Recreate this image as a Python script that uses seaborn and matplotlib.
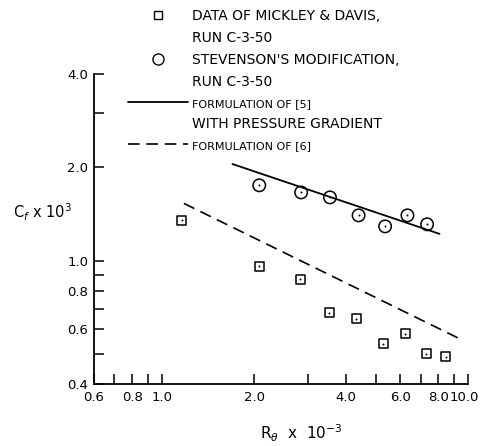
import numpy as np
import pandas as pd
import matplotlib
matplotlib.use("Agg")
import matplotlib.pyplot as plt
import matplotlib.transforms as mtransforms
from matplotlib.lines import Line2D
from matplotlib.ticker import FixedLocator, FixedFormatter, NullFormatter
import seaborn as sns

# Values (R_theta x 1e-3, Cf x 1e3)
mickley_x = [1.16, 2.08, 2.83, 3.52, 4.31, 5.29, 6.23, 7.30, 8.46]
mickley_y = [1.35, 0.96, 0.87, 0.68, 0.65, 0.54, 0.58, 0.50, 0.49]
stevenson_x = [2.08, 2.85, 3.54, 4.39, 5.36, 6.34, 7.35]
stevenson_y = [1.75, 1.66, 1.60, 1.40, 1.29, 1.40, 1.31]
ref5_x = [1.70, 8.07]
ref5_y = [2.05, 1.22]
ref6_x = [1.18, 9.38]
ref6_y = [1.53, 0.56]

x_major = [0.6, 0.8, 1.0, 2.0, 4.0, 6.0, 8.0, 10.0]
x_labels = ["0.6", "0.8", "1.0", "2.0", "4.0", "6.0", "8.0", "10.0"]
x_minor = [0.7, 0.9, 3.0, 5.0, 7.0, 9.0]
y_major = [0.4, 0.6, 0.8, 1.0, 2.0, 4.0]
y_labels = ["0.4", "0.6", "0.8", "1.0", "2.0", "4.0"]
y_minor = [0.5, 0.7, 0.9, 3.0]

sns.set_style("ticks")
plt.rcParams["font.family"] = ["DejaVu Sans"]
plt.rcParams["text.color"] = "black"
plt.rcParams["xtick.color"] = "black"
plt.rcParams["ytick.color"] = "black"
plt.rcParams["axes.labelcolor"] = "black"

fig = plt.figure(figsize=(4.82, 4.46), dpi=100)
ax = fig.add_axes([0.195, 0.139, 0.776, 0.695])

df_m = pd.DataFrame({"x": mickley_x, "y": mickley_y})
df_s = pd.DataFrame({"x": stevenson_x, "y": stevenson_y})

sns.lineplot(x=ref5_x, y=ref5_y, ax=ax, color="black", lw=1.3)
sns.lineplot(x=ref6_x, y=ref6_y, ax=ax, color="black", lw=1.2, dashes=False,
             linestyle=(0, (7, 4)))
sns.scatterplot(data=df_m, x="x", y="y", ax=ax, marker="s", s=42,
                facecolor="none", edgecolor="black", linewidth=1.1)
sns.scatterplot(data=df_s, x="x", y="y", ax=ax, marker="o", s=80,
                facecolor="none", edgecolor="black", linewidth=1.1)
# centre dots
sns.scatterplot(data=pd.concat([df_m, df_s]), x="x", y="y", ax=ax,
                marker="o", s=2, color="black", linewidth=0)

ax.set_xscale("log")
ax.set_yscale("log")
ax.set_xlim(0.6, 10.0)
ax.set_ylim(0.4, 4.0)

ax.xaxis.set_major_locator(FixedLocator(x_major))
ax.xaxis.set_major_formatter(FixedFormatter(x_labels))
ax.xaxis.set_minor_locator(FixedLocator(x_minor))
ax.xaxis.set_minor_formatter(NullFormatter())
ax.yaxis.set_major_locator(FixedLocator(y_major))
ax.yaxis.set_major_formatter(FixedFormatter(y_labels))
ax.yaxis.set_minor_locator(FixedLocator(y_minor))
ax.yaxis.set_minor_formatter(NullFormatter())

ax.tick_params(which="both", direction="in", length=7, width=1.1,
               labelsize=9.5, color="black", labelcolor="black")
ax.tick_params(axis="x", pad=5)
ax.tick_params(axis="y", pad=4)
# the last x label sits at the figure edge, nudge it left a little
fig.canvas.draw()
last = ax.xaxis.get_major_ticks()[-1].label1
last.set_transform(last.get_transform() +
                   mtransforms.ScaledTranslation(-2.5 / 72, 0, fig.dpi_scale_trans))
for sp in ["top", "right"]:
    ax.spines[sp].set_visible(False)
for sp in ["left", "bottom"]:
    ax.spines[sp].set_linewidth(1.3)
    ax.spines[sp].set_color("black")

ax.set_ylabel(r"C$_f$ x 10$^3$", rotation=0, fontsize=10.5, va="center")
ax.yaxis.set_label_coords(-0.139, 0.555)
ax.set_xlabel(r"R$_\theta$  x  10$^{-3}$", fontsize=11)
ax.xaxis.set_label_coords(0.553, -0.125)

# Legend drawn above the plot area
blank = Line2D([], [], linestyle="none")
handles = [
    Line2D([], [], marker="s", ms=6, mfc="none", mec="black", mew=1, linestyle="none"),
    blank,
    Line2D([], [], marker="o", ms=8, mfc="none", mec="black", mew=1, linestyle="none"),
    blank,
    Line2D([], [], color="black", lw=1.3),
    blank,
    Line2D([], [], color="black", lw=1.2, linestyle=(0, (7, 4))),
]
labels = [
    "DATA OF MICKLEY & DAVIS,",
    "RUN C-3-50",
    "STEVENSON'S MODIFICATION,",
    "RUN C-3-50",
    "FORMULATION OF [5]",
    "WITH PRESSURE GRADIENT",
    "FORMULATION OF [6]",
]
leg = fig.legend(handles, labels, loc="upper left",
                 bbox_to_anchor=(0.251, 0.996), frameon=False,
                 handlelength=4.3, handletextpad=0.3, labelspacing=0.59,
                 borderpad=0, fontsize=10)
for i in (4, 6):
    leg.get_texts()[i].set_fontsize(8)

fig.savefig("out.png", dpi=100)
